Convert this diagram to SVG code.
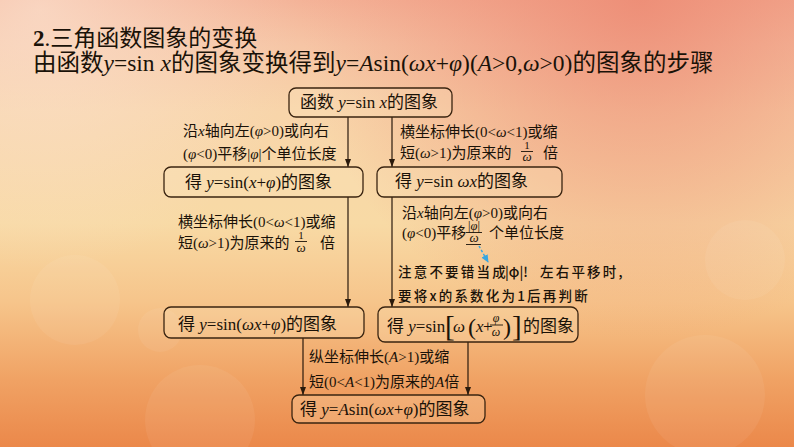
<svg xmlns="http://www.w3.org/2000/svg" width="794" height="447" viewBox="0 0 794 447">
<defs>
<linearGradient id="bg" x1="0" y1="0" x2="0" y2="1">
<stop offset="0" stop-color="#f4b398"/>
<stop offset="0.1" stop-color="#f6c5a5"/>
<stop offset="0.25" stop-color="#f8d5aa"/>
<stop offset="0.5" stop-color="#f8daa5"/>
<stop offset="0.68" stop-color="#f6c48a"/>
<stop offset="0.85" stop-color="#f0a264"/>
<stop offset="1" stop-color="#eb884a"/>
</linearGradient>
<radialGradient id="tr" cx="640" cy="0" r="340" gradientUnits="userSpaceOnUse">
<stop offset="0" stop-color="#ec8670" stop-opacity="0.8"/>
<stop offset="1" stop-color="#ec8670" stop-opacity="0"/>
</radialGradient>
<radialGradient id="tl" cx="40" cy="10" r="260" gradientUnits="userSpaceOnUse">
<stop offset="0" stop-color="#fbe2d0" stop-opacity="0.7"/>
<stop offset="1" stop-color="#fbe2d0" stop-opacity="0"/>
</radialGradient>
<marker id="ah" markerWidth="8" markerHeight="6" refX="8" refY="3" orient="auto" markerUnits="userSpaceOnUse">
<path d="M0,0 L8,3 L0,6 z" fill="#2a1a0c"/>
</marker>
<marker id="bh" markerWidth="8" markerHeight="7" refX="7" refY="3.5" orient="auto" markerUnits="userSpaceOnUse">
<path d="M0,0 L8,3.5 L0,7 z" fill="#36a6e2"/>
</marker>
</defs>
<style>
.t{font-family:"Liberation Serif","Noto Sans CJK SC",serif;fill:#1a1208}
.i{font-style:italic}
.h{font-family:"Noto Sans CJK SC",sans-serif}
.bx{fill:#fbe6c0;fill-opacity:0.25;stroke:#3a2410;stroke-width:1.3}
.cn{stroke:#2a1a0c;stroke-width:1.2;fill:none}
.b17{font-size:17px}
.l15{font-size:15px}
.an{font-family:"Noto Sans CJK SC",sans-serif;font-size:13.5px;font-weight:500;letter-spacing:2.2px;fill:#1a1208}
</style>
<rect width="794" height="447" fill="url(#bg)"/>
<rect width="794" height="447" fill="url(#tr)"/>
<rect width="794" height="447" fill="url(#tl)"/>
<g fill="#ffffff" fill-opacity="0.06">
<circle cx="75" cy="300" r="45"/>
<circle cx="160" cy="330" r="22"/>
<circle cx="705" cy="395" r="60"/>
<circle cx="745" cy="260" r="40"/>
<circle cx="200" cy="420" r="55"/>
</g>

<g id="title">
<text class="t" x="33" y="46" font-size="23"><tspan font-weight="bold">2</tspan>.<tspan class="h">三角函数图象的变换</tspan></text>
<text class="t" x="33" y="71" font-size="23.5">由函数<tspan class="i">y</tspan>=sin <tspan class="i">x</tspan>的图象变换得到<tspan class="i">y</tspan>=<tspan class="i">A</tspan>sin(<tspan class="i">ωx</tspan>+<tspan class="i">φ</tspan>)(<tspan class="i">A</tspan>&gt;0,<tspan class="i">ω</tspan>&gt;0)的图象的步骤</text>
</g>

<g id="connectors">
<line class="cn" x1="348" y1="117" x2="348" y2="167" marker-end="url(#ah)"/>
<line class="cn" x1="392" y1="117" x2="392" y2="167" marker-end="url(#ah)"/>
<line class="cn" x1="348" y1="197" x2="348" y2="307" marker-end="url(#ah)"/>
<line class="cn" x1="392" y1="197" x2="392" y2="307" marker-end="url(#ah)"/>
<line class="cn" x1="303" y1="338" x2="303" y2="395" marker-end="url(#ah)"/>
<line class="cn" x1="468" y1="342" x2="468" y2="395" marker-end="url(#ah)"/>
<path d="M479,246 L488,262" stroke="#36a6e2" stroke-width="1.4" stroke-dasharray="2.5,2" fill="none" marker-end="url(#bh)"/>
</g>

<g id="n1">
<rect class="bx" x="289" y="88" width="163" height="29" rx="7"/>
<text class="t b17" x="300" y="108">函数 <tspan class="i">y</tspan>=sin <tspan class="i">x</tspan>的图象</text>
</g>
<g id="n2">
<rect class="bx" x="164" y="167" width="199" height="30" rx="7"/>
<text class="t b17" x="185" y="188">得 <tspan class="i">y</tspan>=sin(<tspan class="i">x</tspan>+<tspan class="i">φ</tspan>)的图象</text>
</g>
<g id="n3">
<rect class="bx" x="377" y="167" width="185" height="30" rx="7"/>
<text class="t b17" x="395" y="187">得 <tspan class="i">y</tspan>=sin <tspan class="i">ωx</tspan>的图象</text>
</g>
<g id="n4">
<rect class="bx" x="164" y="307" width="200" height="31" rx="7"/>
<text class="t b17" x="178" y="330">得 <tspan class="i">y</tspan>=sin(<tspan class="i">ωx</tspan>+<tspan class="i">φ</tspan>)的图象</text>
</g>
<g id="n5">
<rect class="bx" x="378" y="307" width="200" height="35" rx="7"/>
<text class="t b17" x="387" y="332">得 <tspan class="i">y</tspan>=sin</text>
<text class="t" x="445" y="336" font-size="29">[</text>
<text class="t b17 i" x="453" y="332">ω</text>
<text class="t" x="468" y="335" font-size="24">(</text>
<text class="t b17 i" x="476" y="332">x</text>
<text class="t b17" x="483" y="332">+</text>
<text class="t i" x="496" y="322" font-size="12" text-anchor="middle">φ</text>
<line x1="490" y1="325" x2="503" y2="325" stroke="#1a1208" stroke-width="0.9"/>
<text class="t i" x="496" y="336" font-size="12" text-anchor="middle">ω</text>
<text class="t" x="503" y="335" font-size="24">)</text>
<text class="t" x="512" y="336" font-size="29">]</text>
<text class="t b17" x="523" y="332">的图象</text>
</g>
<g id="n6">
<rect class="bx" x="292" y="395" width="193" height="28" rx="7"/>
<text class="t b17" x="300" y="415">得 <tspan class="i">y</tspan>=<tspan class="i">A</tspan>sin(<tspan class="i">ωx</tspan>+<tspan class="i">φ</tspan>)的图象</text>
</g>

<g id="labels">
<text class="t l15" x="183" y="136">沿<tspan class="i">x</tspan>轴向左(<tspan class="i">φ</tspan>&gt;0)或向右</text>
<text class="t l15" x="183" y="159">(<tspan class="i">φ</tspan>&lt;0)平移|<tspan class="i">φ</tspan>|个单位长度</text>

<text class="t l15" x="400" y="137">横坐标伸长(0&lt;<tspan class="i">ω</tspan>&lt;1)或缩</text>
<text class="t l15" x="400" y="158">短(<tspan class="i">ω</tspan>&gt;1)为原来的</text>
<text class="t" x="527" y="148.5" font-size="11" text-anchor="middle">1</text>
<line x1="521" y1="151.5" x2="533" y2="151.5" stroke="#1a1208" stroke-width="0.9"/>
<text class="t i" x="527" y="160.5" font-size="13" text-anchor="middle">ω</text>
<text class="t l15" x="543" y="158">倍</text>

<text class="t l15" x="178" y="227">横坐标伸长(0&lt;<tspan class="i">ω</tspan>&lt;1)或缩</text>
<text class="t l15" x="178" y="248">短(<tspan class="i">ω</tspan>&gt;1)为原来的</text>
<text class="t" x="301" y="238.5" font-size="11" text-anchor="middle">1</text>
<line x1="295" y1="241.5" x2="307" y2="241.5" stroke="#1a1208" stroke-width="0.9"/>
<text class="t i" x="301" y="251.5" font-size="13" text-anchor="middle">ω</text>
<text class="t l15" x="320" y="248">倍</text>

<text class="t l15" x="402" y="218">沿<tspan class="i">x</tspan>轴向左(<tspan class="i">φ</tspan>&gt;0)或向右</text>
<text class="t l15" x="402" y="238">(<tspan class="i">φ</tspan>&lt;0)平移</text>
<text class="t" x="474" y="230" font-size="12.5" text-anchor="middle">|<tspan class="i">φ</tspan>|</text>
<line x1="466" y1="232.5" x2="482" y2="232.5" stroke="#1a1208" stroke-width="0.9"/>
<text class="t i" x="474" y="242" font-size="13" text-anchor="middle">ω</text>
<line x1="466" y1="244.5" x2="481" y2="244.5" stroke="#1a1208" stroke-width="0.9"/>
<text class="t l15" x="489" y="238">个单位长度</text>

<text class="an" x="398" y="277">注意不要错当成<tspan x="505" letter-spacing="0">|φ|!</tspan><tspan x="540">左右平移时,</tspan></text>
<text class="an" x="398" y="301">要将x的系数化为1后再判断</text>

<text class="t l15" x="309" y="362">纵坐标伸长(<tspan class="i">A</tspan>&gt;1)或缩</text>
<text class="t l15" x="309" y="387">短(0&lt;<tspan class="i">A</tspan>&lt;1)为原来的<tspan class="i">A</tspan>倍</text>
</g>
</svg>
